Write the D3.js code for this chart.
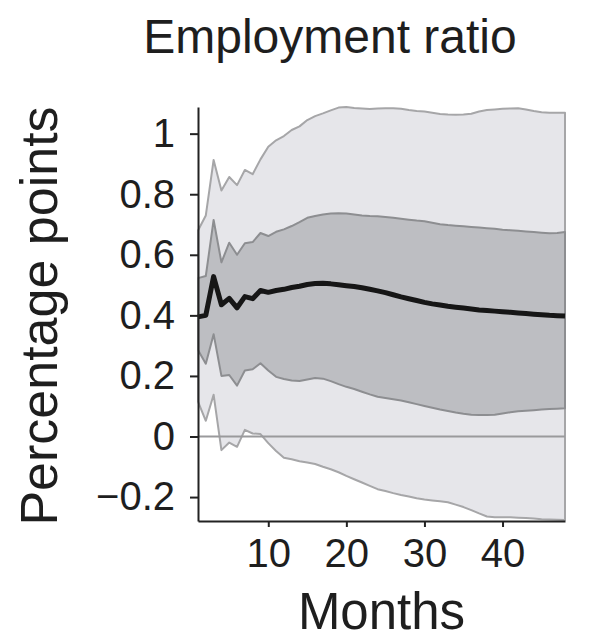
<!DOCTYPE html>
<html>
<head>
<meta charset="utf-8">
<script src="https://cdn.jsdelivr.net/npm/d3@7"></script>
<style>
  html, body { margin: 0; padding: 0; background: #fff; }
  svg { display: block; }
  text { font-family: "Liberation Sans", Arial, Helvetica, sans-serif; fill: #1e1e1e; }
</style>
</head>
<body>
<svg id="chart" width="592" height="635"></svg>
<script>
const months = d3.range(1, 49);

const meanValues = [0.395,0.400,0.528,0.435,0.456,0.425,0.462,0.455,0.482,0.476,
  0.482,0.486,0.492,0.496,0.502,0.505,0.506,0.504,0.501,0.498,
  0.495,0.491,0.486,0.481,0.475,0.468,0.461,0.455,0.449,0.443,
  0.438,0.434,0.430,0.427,0.424,0.421,0.418,0.416,0.414,0.412,
  0.410,0.408,0.406,0.404,0.402,0.400,0.399,0.398];

const inner68Upper = [0.523,0.530,0.715,0.575,0.640,0.600,0.638,0.642,0.672,0.662,
  0.676,0.684,0.695,0.708,0.722,0.728,0.733,0.736,0.737,0.736,
  0.733,0.730,0.728,0.727,0.725,0.722,0.719,0.716,0.713,0.711,
  0.706,0.701,0.698,0.696,0.694,0.692,0.690,0.688,0.686,0.683,
  0.681,0.679,0.677,0.675,0.673,0.671,0.672,0.675];

const inner68Lower = [0.286,0.240,0.338,0.200,0.203,0.168,0.218,0.222,0.242,0.218,
  0.197,0.190,0.185,0.183,0.188,0.193,0.191,0.183,0.173,0.164,
  0.157,0.148,0.139,0.131,0.127,0.123,0.119,0.113,0.107,0.101,
  0.095,0.089,0.084,0.079,0.075,0.072,0.071,0.071,0.072,0.076,
  0.080,0.083,0.085,0.087,0.089,0.091,0.092,0.093];

const outer95Upper = [0.680,0.730,0.913,0.812,0.857,0.830,0.880,0.866,0.915,0.957,
  0.978,0.992,1.012,1.024,1.045,1.058,1.067,1.077,1.086,1.088,
  1.085,1.083,1.081,1.083,1.084,1.084,1.082,1.078,1.075,1.073,
  1.069,1.065,1.063,1.062,1.063,1.066,1.073,1.078,1.080,1.082,
  1.083,1.084,1.080,1.075,1.071,1.069,1.069,1.069];

const outer95Lower = [0.115,0.052,0.138,-0.045,-0.020,-0.034,0.022,0.010,0.008,-0.022,
  -0.048,-0.070,-0.075,-0.082,-0.086,-0.091,-0.100,-0.108,-0.118,-0.130,
  -0.141,-0.152,-0.163,-0.174,-0.180,-0.187,-0.193,-0.198,-0.204,-0.208,
  -0.211,-0.214,-0.217,-0.225,-0.233,-0.243,-0.254,-0.264,-0.267,-0.267,
  -0.267,-0.268,-0.269,-0.271,-0.273,-0.274,-0.275,-0.276];

const yTickValues = [-0.2, 0, 0.2, 0.4, 0.6, 0.8, 1];
const yTickLabels = ["\u22120.2", "0", "0.2", "0.4", "0.6", "0.8", "1"];
const xTickValues = [10, 20, 30, 40];
const xTickLabels = ["10", "20", "30", "40"];

const titleText = "Employment ratio";
const xTitle = "Months";
const yTitle = "Percentage points";

(function () {
const svg = d3.select("#chart");
const pLeft = 198, pRight = 565, pTop = 107, pBottom = 521;

const x = d3.scaleLinear().domain([1, 48]).range([pLeft, pRight]);
const y = d3.scaleLinear().domain([-0.279, 1.088]).range([pBottom, pTop]);

const rows = months.map((m, i) => ({
  m, mean: meanValues[i], hi68: inner68Upper[i], lo68: inner68Lower[i],
  hi95: outer95Upper[i], lo95: outer95Lower[i]
}));

const outerArea = d3.area().x(d => x(d.m)).y0(d => y(d.lo95)).y1(d => y(d.hi95));
const innerArea = d3.area().x(d => x(d.m)).y0(d => y(d.lo68)).y1(d => y(d.hi68));
const meanLine = d3.line().x(d => x(d.m)).y(d => y(d.mean));

svg.append("path").datum(rows).attr("d", outerArea)
  .attr("fill", "#e6e6ea").attr("stroke", "#a6a6a8").attr("stroke-width", 2)
  .attr("stroke-linejoin", "round");

svg.append("path").datum(rows).attr("d", innerArea)
  .attr("fill", "#bdbec2").attr("stroke", "#8d8e91").attr("stroke-width", 2)
  .attr("stroke-linejoin", "round");

svg.append("line")
  .attr("x1", x(1)).attr("x2", x(48)).attr("y1", y(0)).attr("y2", y(0))
  .attr("stroke", "#9a9a9c").attr("stroke-width", 2);

svg.append("path").datum(rows).attr("d", meanLine)
  .attr("fill", "none").attr("stroke", "#161616").attr("stroke-width", 5)
  .attr("stroke-linejoin", "round");

const yAxis = d3.axisLeft(y).tickValues(yTickValues)
  .tickFormat((d, i) => yTickLabels[i]).tickSizeInner(8).tickSizeOuter(0).tickPadding(15);
const gy = svg.append("g").attr("transform", `translate(${pLeft},0)`).call(yAxis);
gy.select(".domain").attr("stroke", "#222").attr("stroke-width", 2);
gy.selectAll(".tick line").attr("stroke", "#222").attr("stroke-width", 2);
gy.selectAll(".tick text").attr("font-size", 40).attr("fill", "#1e1e1e")
  .attr("font-family", "'Liberation Sans', Arial, sans-serif");

const xAxis = d3.axisBottom(x).tickValues(xTickValues)
  .tickFormat((d, i) => xTickLabels[i]).tickSizeInner(6).tickSizeOuter(0).tickPadding(12);
const gx = svg.append("g").attr("transform", `translate(0,${pBottom})`).call(xAxis);
gx.select(".domain").attr("stroke", "#222").attr("stroke-width", 2);
gx.selectAll(".tick line").attr("stroke", "#222").attr("stroke-width", 2);
gx.selectAll(".tick text").attr("font-size", 40).attr("fill", "#1e1e1e")
  .attr("font-family", "'Liberation Sans', Arial, sans-serif");

svg.append("text").attr("x", 330).attr("y", 53).attr("text-anchor", "middle")
  .attr("font-size", 48).text(titleText);

svg.append("text").attr("x", (pLeft + pRight) / 2).attr("y", 629).attr("text-anchor", "middle")
  .attr("font-size", 51).text(xTitle);

svg.append("text").attr("transform", `translate(57,${(pTop + pBottom) / 2 + 2}) rotate(-90)`)
  .attr("text-anchor", "middle").attr("font-size", 52).text(yTitle);
})();
</script>
</body>
</html>
